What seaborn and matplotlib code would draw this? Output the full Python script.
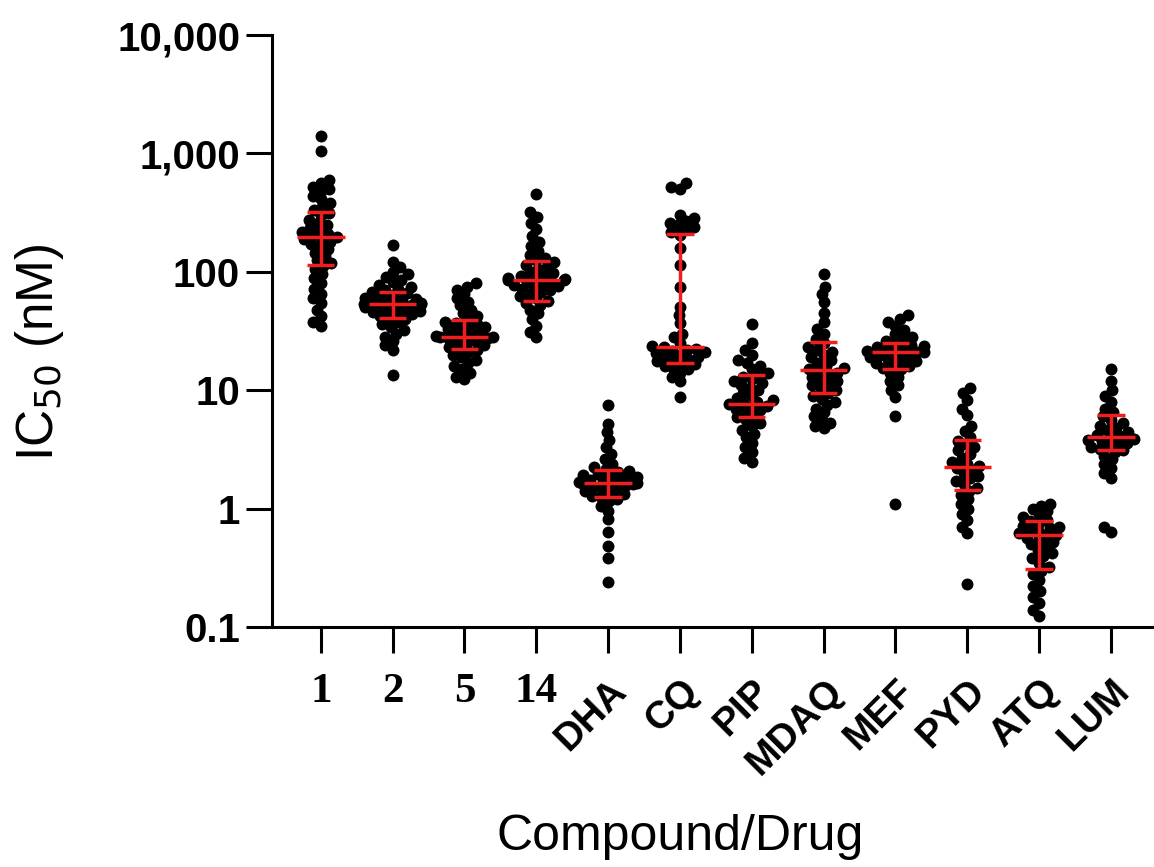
"""
IC50 swarm plot with median and interquartile range
"""

import matplotlib
matplotlib.use("Agg")
import matplotlib.pyplot as plt
import seaborn as sns
import pandas as pd

categories = ["1", "2", "5", "14", "DHA", "CQ", "PIP", "MDAQ", "MEF", "PYD", "ATQ", "LUM"]

# IC50 values (nM)
ic50_1 = [35, 38, 42, 48, 55, 60, 65, 72, 80, 88, 95, 105, 112, 118, 125, 135, 145, 155,
          165, 172, 180, 188, 193, 198, 203, 210, 218, 225, 235, 248, 260, 275, 300, 315,
          330, 350, 380, 410, 440, 480, 500, 520, 560, 600, 1050, 1400]
ic50_2 = [13.5, 22, 24, 26, 28, 30, 32, 34, 36, 38, 40, 41, 42, 44, 45, 46, 47, 48, 49, 50,
          51, 52, 53, 54, 54, 55, 56, 57, 58, 59, 60, 62, 64, 66, 68, 70, 72, 75, 78, 82,
          86, 90, 95, 100, 110, 122, 170]
ic50_5 = [12.5, 13, 14, 15, 16, 17, 18, 19, 20, 21, 22, 22.5, 23, 24, 25, 26, 26.5, 27,
          27.5, 28, 28, 28.5, 29, 30, 31, 32, 33, 34, 35, 36, 37, 38, 40, 42, 45, 48, 52,
          56, 60, 65, 70, 75, 80]
ic50_14 = [28, 31, 35, 40, 45, 48, 52, 55, 57, 60, 62, 65, 68, 70, 72, 74, 76, 78, 80, 82,
           84, 85, 86, 87, 88, 90, 92, 95, 98, 100, 105, 110, 115, 120, 125, 130, 140, 150,
           165, 180, 200, 230, 260, 290, 320, 450]
ic50_dha = [0.24, 0.38, 0.48, 0.64, 0.81, 0.95, 1.05, 1.15, 1.2, 1.25, 1.28, 1.32, 1.36,
            1.4, 1.44, 1.48, 1.52, 1.55, 1.58, 1.6, 1.62, 1.64, 1.67, 1.7, 1.73, 1.76, 1.8,
            1.84, 1.88, 1.92, 1.97, 2.02, 2.08, 2.15, 2.25, 2.4, 2.6, 2.9, 3.3, 3.8, 4.4,
            5.2, 7.5]
ic50_cq = [8.7, 12, 13, 14, 15, 15.5, 16, 16.5, 17, 17.5, 18, 18.5, 19, 19.5, 20, 20.5, 21,
           21.5, 22, 22.5, 23, 23.5, 25, 28, 30, 37, 43, 50, 74, 115, 160, 205, 215, 230,
           240, 250, 260, 270, 285, 300, 500, 525, 560]
ic50_pip = [2.5, 2.7, 3.0, 3.3, 3.6, 4.0, 4.3, 4.6, 5.0, 5.3, 5.6, 5.9, 6.2, 6.5, 6.8, 7.0,
            7.2, 7.4, 7.6, 7.8, 8.0, 8.3, 8.6, 9.0, 9.5, 10, 10.5, 11, 11.5, 12, 12.5, 13,
            13.5, 14, 15, 16, 17, 18, 20, 22, 25, 36]
ic50_mdaq = [4.8, 5.0, 5.3, 5.6, 6.0, 6.5, 7.0, 7.5, 8.0, 8.5, 9.0, 9.5, 10, 10.5, 11, 11.5,
             12, 12.5, 13, 13.5, 14, 14.5, 15, 15.5, 16, 17, 18, 19, 20, 21, 22, 23, 25, 27,
             30, 33, 38, 45, 56, 65, 75, 95]
ic50_mef = [1.1, 6.0, 8.8, 10, 11, 12, 13, 14, 15, 15.5, 16, 16.5, 17, 17.5, 18, 18.5, 19,
            19.5, 20, 20.5, 21, 21, 21.5, 22, 22.5, 23, 23.5, 24, 25, 26, 27, 28, 30, 32, 35,
            38, 40, 43]
ic50_pyd = [0.23, 0.62, 0.7, 0.8, 0.9, 1.0, 1.1, 1.2, 1.3, 1.4, 1.5, 1.6, 1.7, 1.8, 1.9,
            2.0, 2.1, 2.2, 2.3, 2.4, 2.5, 2.7, 2.9, 3.1, 3.3, 3.5, 3.7, 4.0, 4.5, 5.0, 6.2,
            7.0, 8.3, 9.5, 10.5]
ic50_atq = [0.125, 0.14, 0.16, 0.18, 0.2, 0.22, 0.25, 0.28, 0.3, 0.32, 0.35, 0.38, 0.4,
            0.42, 0.45, 0.48, 0.5, 0.52, 0.55, 0.57, 0.59, 0.6, 0.62, 0.64, 0.66, 0.68, 0.7,
            0.72, 0.75, 0.78, 0.8, 0.85, 0.9, 0.95, 1.0, 1.05, 1.1]
ic50_lum = [0.63, 0.7, 1.8, 2.0, 2.2, 2.4, 2.6, 2.8, 3.0, 3.1, 3.2, 3.3, 3.4, 3.5, 3.6, 3.7,
            3.8, 3.9, 4.0, 4.1, 4.2, 4.4, 4.6, 4.8, 5.0, 5.3, 5.6, 6.0, 6.5, 7.0, 8.0, 9.0,
            10, 12, 15]

# median and interquartile range (red bars)
medians = [195, 54, 28, 86, 1.63, 23, 7.7, 14.9, 21, 2.26, 0.60, 4.06]
q1 = [115, 41, 22.5, 57, 1.26, 17, 5.9, 9.5, 15, 1.45, 0.31, 3.15]
q3 = [320, 67, 39.5, 124, 2.1, 210, 13.5, 25.7, 25, 3.8, 0.78, 6.2]

yticks = [0.1, 1, 10, 100, 1000, 10000]
ytick_labels = ["0.1", "1", "10", "100", "1,000", "10,000"]

groups = [ic50_1, ic50_2, ic50_5, ic50_14, ic50_dha, ic50_cq, ic50_pip,
          ic50_mdaq, ic50_mef, ic50_pyd, ic50_atq, ic50_lum]
df = pd.DataFrame({
    "drug": [c for c, g in zip(categories, groups) for _ in g],
    "ic50": [v for g in groups for v in g],
})

sns.set_theme(style="ticks")
plt.rcParams['font.family'] = ['Liberation Sans', 'DejaVu Sans']
plt.rcParams.update({"text.color": "black", "axes.labelcolor": "black",
                     "xtick.color": "black", "ytick.color": "black",
                     "axes.edgecolor": "black"})

fig = plt.figure(figsize=(11.54, 8.67), dpi=100)
ax = fig.add_axes([0.2357, 0.2768, 0.7643, 0.6828])
ax.set_yscale("log")

# lay out the swarm with small dots, then draw bigger dots so they overlap like Prism
sns.swarmplot(data=df, x="drug", y="ic50", order=categories, color="black",
              size=6.3, linewidth=0, ax=ax, zorder=2)
fig.canvas.draw()
for coll in ax.collections:
    if "draw" in coll.__dict__:
        del coll.draw
    coll.set_sizes([8.6 ** 2])

red = "#f01e1e"
for i, (m, lo, hi) in enumerate(zip(medians, q1, q3)):
    ax.vlines(i, lo, hi, color=red, lw=2.5, zorder=5)
    ax.hlines([lo, hi], i - 0.19, i + 0.19, color=red, lw=2.5, zorder=5)
    ax.hlines(m, i - 0.33, i + 0.33, color=red, lw=2.5, zorder=5)

ax.set_ylim(0.1, 10000)
ax.set_xlim(-0.68, 11.6)
ax.set_yticks(yticks)
ax.set_yticklabels(ytick_labels, fontsize=29, fontweight="bold")
ax.yaxis.set_minor_locator(matplotlib.ticker.NullLocator())

ax.set_xticks(range(len(categories)))
ax.set_xticklabels(categories)
for i, lab in enumerate(ax.get_xticklabels()):
    if i < 4:
        lab.set_family(["Liberation Serif", "DejaVu Serif"])
        lab.set_fontsize(31)
        lab.set_fontweight("bold")
    else:
        lab.set_fontsize(28)
        lab.set_fontweight("bold")
        lab.set_rotation(45)
        lab.set_ha("right")
        lab.set_rotation_mode("anchor")

ax.tick_params(axis="both", which="major", direction="out", length=19, width=2.2,
               color="black")
ax.tick_params(axis="y", pad=4)
ax.tick_params(axis="x", pad=14)
for side in ["left", "bottom"]:
    ax.spines[side].set_linewidth(2.2)
sns.despine(ax=ax)

ax.set_xlabel("Compound/Drug", fontsize=36)
ax.xaxis.set_label_coords(0.4626, -0.316)
ax.set_ylabel("IC$_{50}$ (nM)", fontsize=37)
ax.yaxis.set_label_coords(-0.233, 0.4645)

fig.savefig("out.png", dpi=100)
